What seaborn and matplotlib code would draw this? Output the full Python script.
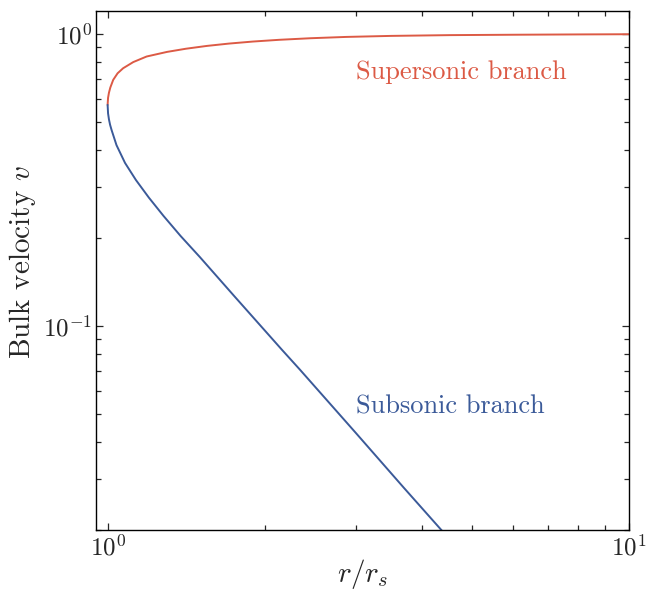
import matplotlib
matplotlib.use("Agg")
import matplotlib.pyplot as plt
import pandas as pd
import seaborn as sns

# values (r / r_s, bulk velocity v)
super_r = [1.0, 1.002, 1.006, 1.012, 1.025, 1.045, 1.071, 1.12, 1.188, 1.30,
           1.413, 1.55, 1.709, 1.9, 2.133, 2.45, 2.867, 3.5, 4.54, 6.0, 8.0, 10.0]
super_v = [0.572, 0.605, 0.630, 0.656, 0.697, 0.734, 0.764, 0.802, 0.838, 0.869,
           0.891, 0.911, 0.928, 0.943, 0.956, 0.968, 0.978, 0.986, 0.992, 0.995, 0.9975, 0.999]

sub_r = [1.0, 1.002, 1.006, 1.011, 1.0178, 1.04, 1.08, 1.1332, 1.2, 1.28,
         1.38, 1.504, 1.75, 2.158, 2.339, 3.0, 3.7, 4.377, 4.6]
sub_v = [0.572, 0.535, 0.510, 0.489, 0.469, 0.4165, 0.3619, 0.3163, 0.2752, 0.2383,
         0.2035, 0.172, 0.1265, 0.0830, 0.0708, 0.0428, 0.0279, 0.0199, 0.0180]

red = "#dc5a45"
blue = "#3b5a99"

sns.set_style("ticks")
plt.rcParams["font.family"] = ["cmr10", "DejaVu Serif"]
plt.rcParams["mathtext.fontset"] = "cm"
plt.rcParams["axes.formatter.use_mathtext"] = True
plt.rcParams["axes.unicode_minus"] = False

df = pd.concat([
    pd.DataFrame({"r": super_r, "v": super_v, "branch": "Supersonic"}),
    pd.DataFrame({"r": sub_r, "v": sub_v, "branch": "Subsonic"}),
])

fig = plt.figure(figsize=(6.46, 5.91), dpi=100)
ax = fig.add_axes([0.1486, 0.1032, 0.8251, 0.8782])

sns.lineplot(data=df, x="r", y="v", hue="branch", sort=False, estimator=None,
             palette={"Supersonic": red, "Subsonic": blue}, linewidth=1.4,
             legend=False, ax=ax)

ax.set_xscale("log")
ax.set_yscale("log")
ax.set_xlim(0.95, 10)
ax.set_ylim(0.02, 1.2)

for s in ax.spines.values():
    s.set_linewidth(1.0)
    s.set_color("black")

ax.tick_params(which="both", direction="in", top=True, right=True, labelsize=18, width=0.9)
ax.tick_params(which="major", length=5)
ax.tick_params(which="minor", length=3.5)
ax.tick_params(axis="x", which="major", pad=3)
ax.tick_params(axis="y", which="major", pad=3)

ax.set_xlabel(r"$r/r_s$", fontsize=21)
ax.set_ylabel(r"Bulk velocity $v$", fontsize=21)
ax.xaxis.set_label_coords(0.5, -0.052)
ax.yaxis.set_label_coords(-0.109, 0.517)

ax.text(3.0, 0.742, "Supersonic branch", color=red, fontsize=19, va="center", ha="left")
ax.text(3.0, 0.053, "Subsonic branch", color=blue, fontsize=19, va="center", ha="left")

fig.savefig("out.png", dpi=100)
